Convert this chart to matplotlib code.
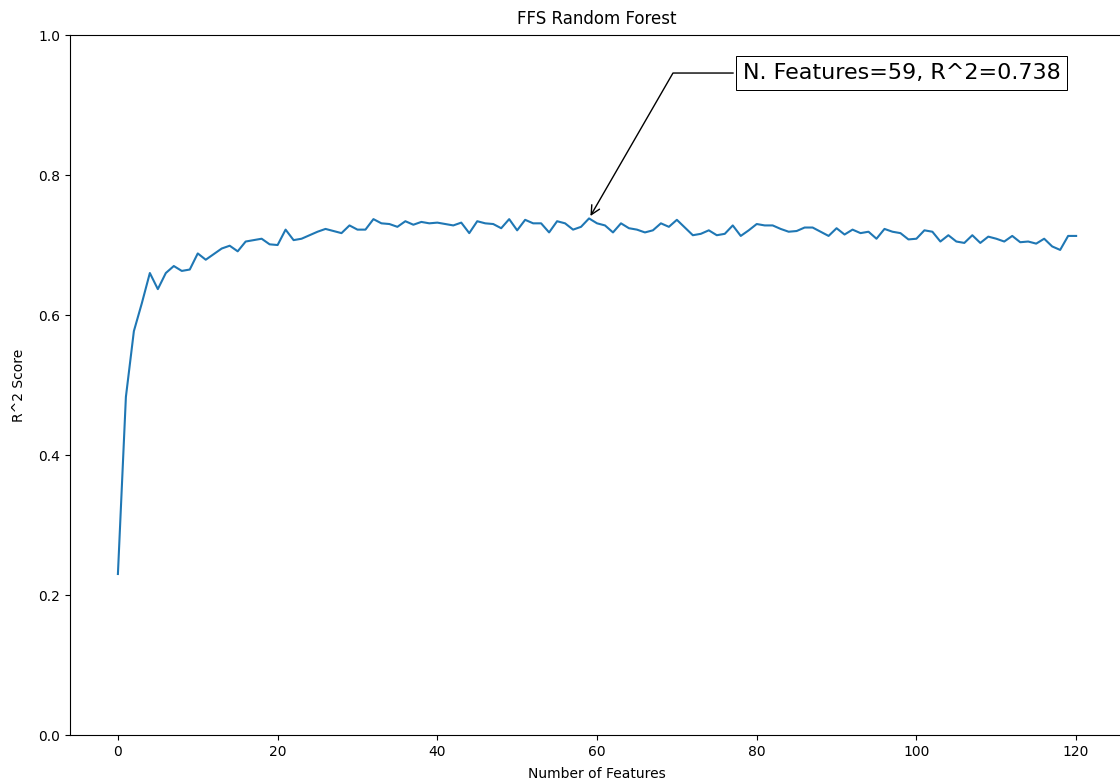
import matplotlib
matplotlib.use('Agg')
import matplotlib.pyplot as plt
import numpy as np

# R^2 score for each number of features
n_features = list(range(121))
r2_scores = [
    0.230, 0.483, 0.577, 0.617, 0.660, 0.637, 0.660, 0.670, 0.663, 0.665,  # 0-9
    0.688, 0.679, 0.687, 0.695, 0.699, 0.691, 0.705, 0.707, 0.709, 0.701,  # 10-19
    0.700, 0.722, 0.707, 0.709, 0.714, 0.719, 0.723, 0.720, 0.717, 0.728,  # 20-29
    0.722, 0.722, 0.737, 0.731, 0.730, 0.726, 0.734, 0.729, 0.733, 0.731,  # 30-39
    0.732, 0.730, 0.728, 0.732, 0.717, 0.734, 0.731, 0.730, 0.724, 0.737,  # 40-49
    0.721, 0.736, 0.731, 0.731, 0.718, 0.734, 0.731, 0.722, 0.726, 0.738,  # 50-59
    0.731, 0.728, 0.718, 0.731, 0.724, 0.722, 0.718, 0.721, 0.731, 0.726,  # 60-69
    0.736, 0.725, 0.714, 0.716, 0.721, 0.714, 0.716, 0.728, 0.713, 0.721,  # 70-79
    0.730, 0.728, 0.728, 0.723, 0.719, 0.720, 0.725, 0.725, 0.719, 0.713,  # 80-89
    0.724, 0.715, 0.722, 0.717, 0.719, 0.709, 0.723, 0.719, 0.717, 0.708,  # 90-99
    0.709, 0.721, 0.719, 0.705, 0.714, 0.705, 0.703, 0.714, 0.703, 0.712,  # 100-109
    0.709, 0.705, 0.713, 0.704, 0.705, 0.702, 0.709, 0.698, 0.693, 0.713,  # 110-119
    0.713,                                                                 # 120
]

x = np.array(n_features)
y = np.array(r2_scores)

fig = plt.figure(figsize=(11.2, 7.82), dpi=100)
# the original image is cropped just inside the right spine
ax = fig.add_axes([0.0625, 0.0601, 0.9411, 0.8951])

ax.plot(x, y)
ax.set_ylim(0, 1)
ax.set_title('FFS Random Forest', pad=8)
ax.set_xlabel('Number of Features', labelpad=6)
ax.set_ylabel('R^2 Score', labelpad=9)

# annotate the best point
best = int(np.argmax(y))
text = 'N. Features={}, R^2={:.3f}'.format(x[best], y[best])
bbox_props = dict(boxstyle='square,pad=0.3', fc='w', ec='k', lw=0.72)
arrowprops = dict(arrowstyle='->', connectionstyle='angle,angleA=0,angleB=60')
ax.annotate(text, xy=(x[best], y[best]), xycoords='data',
            xytext=(0.94, 0.96), textcoords='axes fraction',
            arrowprops=arrowprops, bbox=bbox_props,
            ha='right', va='top', fontsize=16)

plt.savefig('out.png', dpi=100)
plt.close()
